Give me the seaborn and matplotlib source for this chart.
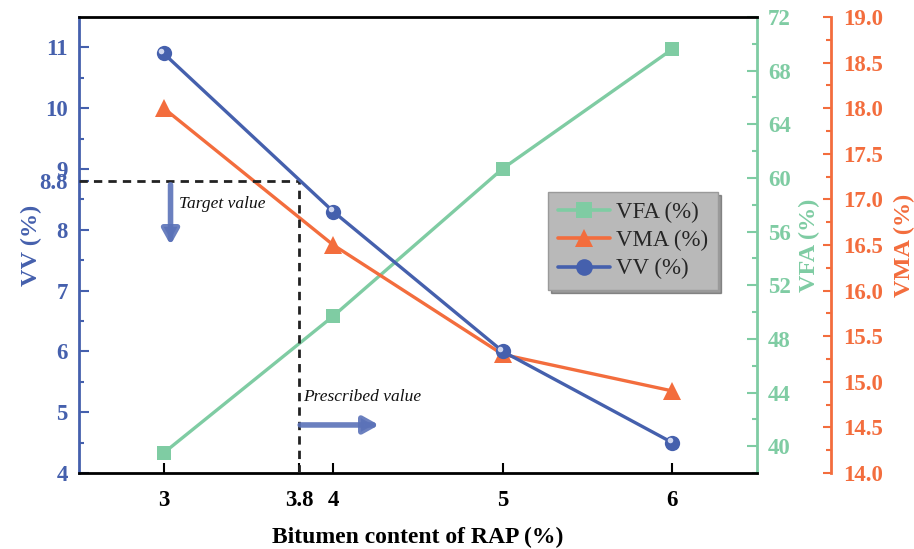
import matplotlib
matplotlib.use("Agg")
import matplotlib.pyplot as plt
from matplotlib.ticker import MultipleLocator, FixedLocator, FormatStrFormatter
from matplotlib.transforms import offset_copy
from matplotlib.lines import Line2D
import seaborn as sns
import pandas as pd

# Bitumen content of RAP (%) and measured volumetric properties
bitumen = [3, 4, 5, 6]
vv = [10.9, 8.3, 6.0, 4.5]
vma = [18.0, 16.5, 15.3, 14.9]
vfa = [39.5, 49.7, 60.7, 69.6]

x_ticks = [3, 3.8, 4, 5, 6]
x_tick_labels = ["3", "3.8", "4", "5", "6"]
vv_ticks = [4, 5, 6, 7, 8, 8.8, 9, 10, 11]
vv_tick_labels = ["4", "5", "6", "7", "8", "8.8", "9", "10", "11"]
target_vv = 8.8
prescribed_bitumen = 3.8

BLUE = "#4560ad"
GREEN = "#7fcca3"
ORANGE = "#f36d3d"

df = pd.DataFrame({"bitumen": bitumen, "VV": vv, "VMA": vma, "VFA": vfa})

sns.set_style("ticks")
plt.rcParams["font.family"] = ["Liberation Serif", "DejaVu Serif"]
plt.rcParams["font.weight"] = "bold"

fig = plt.figure(figsize=(9.14, 5.49), dpi=100)
ax = fig.add_axes([79 / 914, 1 - 473 / 549, (757 - 79) / 914, (473 - 17) / 549])
ax_vfa = ax.twinx()
ax_vma = ax.twinx()
ax_vma.spines["right"].set_position(("outward", 74 * 72 / 100))

# Series
sns.lineplot(data=df, x="bitumen", y="VFA", ax=ax_vfa, color=GREEN, lw=2.4,
             marker="s", markersize=10, markeredgewidth=0, legend=False)
sns.lineplot(data=df, x="bitumen", y="VMA", ax=ax_vma, color=ORANGE, lw=2.4,
             marker="^", markersize=13, markeredgewidth=0, legend=False)
sns.lineplot(data=df, x="bitumen", y="VV", ax=ax, color=BLUE, lw=2.4,
             marker="o", markersize=11, markeredgewidth=0, legend=False, zorder=5)
# glossy highlight on the VV spheres
hl = offset_copy(ax.transData, fig=fig, x=-2.5, y=2.5, units="dots")
ax.plot(bitumen, vv, ls="none", marker="o", ms=4, mec="none",
        mfc="#dfe4f7", alpha=0.9, transform=hl, zorder=6)

# keep the VV axis above the twins so its markers stay on top
ax.set_zorder(3)
ax.patch.set_visible(False)

# Axis limits and ticks
ax.set_xlim(2.5, 6.5)
ax.set_ylim(4, 11.5)
ax_vfa.set_ylim(38, 72)
ax_vma.set_ylim(14, 19)

ax.xaxis.set_major_locator(FixedLocator(x_ticks))
ax.set_xticklabels(x_tick_labels)
ax.yaxis.set_major_locator(FixedLocator(vv_ticks))
ax.set_yticklabels(vv_tick_labels)
ax.yaxis.set_minor_locator(FixedLocator([4.5, 5.5, 6.5, 7.5, 8.5, 9.5, 10.5]))
ax_vfa.yaxis.set_major_locator(MultipleLocator(4))
ax_vfa.yaxis.set_minor_locator(MultipleLocator(2))
ax_vma.yaxis.set_major_locator(MultipleLocator(0.5))
ax_vma.yaxis.set_minor_locator(MultipleLocator(0.25))
ax_vma.yaxis.set_major_formatter(FormatStrFormatter("%.1f"))

LS = 16.5
ax.tick_params(axis="x", direction="in", length=7, width=1.5, colors="black",
               pad=12, labelsize=LS)
ax.tick_params(axis="y", which="major", direction="in", length=7, width=1.5,
               colors=BLUE, pad=8, labelsize=LS)
ax.tick_params(axis="y", which="minor", direction="in", length=3.6, width=1.5,
               colors=BLUE)
ax_vfa.tick_params(axis="y", which="major", direction="in", length=7, width=1.5,
                   colors=GREEN, pad=8, labelsize=LS)
ax_vfa.tick_params(axis="y", which="minor", direction="in", length=3.6, width=1.5,
                   colors=GREEN)
ax_vma.tick_params(axis="y", which="major", direction="in", length=6, width=1.5,
                   colors=ORANGE, pad=8.5, labelsize=LS)
ax_vma.tick_params(axis="y", which="minor", direction="in", length=3.6, width=1.5,
                   colors=ORANGE)
for a in (ax, ax_vfa, ax_vma):
    for lbl in a.get_xticklabels() + a.get_yticklabels():
        lbl.set_fontweight("bold")

# Spines
for a in (ax, ax_vfa, ax_vma):
    for s in a.spines.values():
        s.set_linewidth(2)
ax.spines["left"].set_color(BLUE)
ax.spines["top"].set_color("black")
ax.spines["bottom"].set_color("black")
ax_vfa.spines["right"].set_color(GREEN)
ax_vma.spines["right"].set_color(ORANGE)
for a in (ax_vfa, ax_vma):
    a.spines["top"].set_visible(False)
    a.spines["bottom"].set_visible(False)
    a.spines["left"].set_visible(False)
ax.spines["right"].set_visible(False)

# Labels
ax.set_xlabel("Bitumen content of RAP (%)", fontsize=17, fontweight="bold",
              color="black", labelpad=12)
ax.set_ylabel("VV (%)", fontsize=17.5, fontweight="bold", color=BLUE, labelpad=-2)
ax_vfa.set_ylabel("VFA (%)", fontsize=17.5, fontweight="bold", color=GREEN, labelpad=6)
ax_vma.set_ylabel("VMA (%)", fontsize=17.5, fontweight="bold", color=ORANGE, labelpad=8)

# Target / prescribed guide lines
ax.plot([2.5, prescribed_bitumen], [target_vv, target_vv], ls=(0, (3, 2.2)),
        color="#222222", lw=2, zorder=4)
ax.plot([prescribed_bitumen, prescribed_bitumen], [4, target_vv], ls=(0, (3, 2.2)),
        color="#222222", lw=2, zorder=4)

arrow_kw = dict(arrowstyle="-|>,head_length=0.9,head_width=0.5",
                color="#5b72b8", lw=4, alpha=0.9, shrinkA=0, shrinkB=0)
ax.annotate("", xy=(3.04, 7.75), xytext=(3.04, 8.74), arrowprops=arrow_kw, zorder=4)
ax.annotate("", xy=(4.27, 4.79), xytext=(prescribed_bitumen + 0.005, 4.79),
            arrowprops=arrow_kw, zorder=4)
ax.text(3.09, 8.42, "Target value", fontsize=12.5, style="italic",
        fontweight="normal", va="center", ha="left", color="#111111")
ax.text(3.82, 5.25, "Prescribed value", fontsize=12.5, style="italic",
        fontweight="normal", va="center", ha="left", color="#111111")

# Legend
handles = [
    Line2D([], [], color=GREEN, lw=2.6, marker="s", ms=11, mew=0),
    Line2D([], [], color=ORANGE, lw=2.6, marker="^", ms=13, mew=0),
    Line2D([], [], color=BLUE, lw=2.6, marker="o", ms=12, mew=0),
]
leg = ax.legend(handles, ["VFA (%)", "VMA (%)", "VV (%)"],
                loc="upper left", bbox_to_anchor=(548 / 914, 1 - 192 / 549),
                bbox_transform=fig.transFigure, frameon=True, fancybox=False,
                shadow=True, facecolor="#b9b9b9", edgecolor="#9a9a9a",
                framealpha=1, handlelength=2.25, handletextpad=0.25,
                borderpad=0.45, labelspacing=0.3, borderaxespad=0,
                prop={"family": "Liberation Serif", "size": 16.5, "weight": "normal"})

fig.savefig("out.png", dpi=100)
